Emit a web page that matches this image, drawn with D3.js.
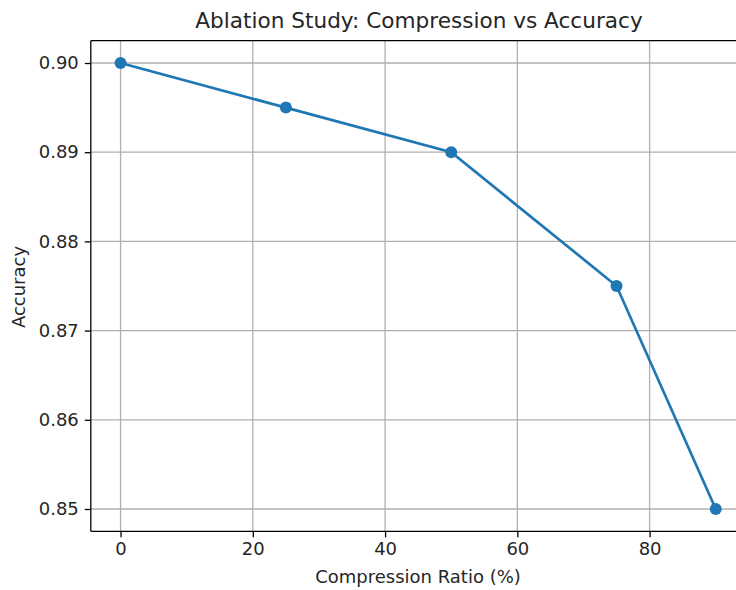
<!DOCTYPE html>
<html><head><meta charset="utf-8">
<script src="https://cdn.jsdelivr.net/npm/d3@7"></script>
<style>body{margin:0;background:#fff;overflow:hidden}text{font-family:"DejaVu Sans",sans-serif;fill:#262626}</style>
</head><body>
<script>
const compression = [0, 25, 50, 75, 90];
const accuracy = [0.90, 0.895, 0.89, 0.875, 0.85];
const xTicks = [0, 20, 40, 60, 80];
const yTicks = [0.85, 0.86, 0.87, 0.88, 0.89, 0.90];

const W = 736, H = 590;
const m = {left: 90.8, top: 40.7, right: 745.5, bottom: 531.3};
const svg = d3.select("body").append("svg").attr("width", W).attr("height", H);

const x = d3.scaleLinear().domain([-4.5, 94.5]).range([m.left, m.right]);
const y = d3.scaleLinear().domain([0.8475, 0.9025]).range([m.bottom, m.top]);

const g = svg.append("g");
// grid
g.selectAll(".gx").data(xTicks).join("line")
  .attr("x1", d => x(d)).attr("x2", d => x(d)).attr("y1", m.top).attr("y2", m.bottom)
  .attr("stroke", "#b0b0b0").attr("stroke-width", 1.3);
g.selectAll(".gy").data(yTicks).join("line")
  .attr("x1", m.left).attr("x2", m.right).attr("y1", d => y(d)).attr("y2", d => y(d))
  .attr("stroke", "#b0b0b0").attr("stroke-width", 1.3);

// axes
const xAxis = d3.axisBottom(x).tickValues(xTicks).tickFormat(d3.format("d")).tickSize(6).tickPadding(5);
const yAxis = d3.axisLeft(y).tickValues(yTicks).tickFormat(d3.format(".2f")).tickSize(6).tickPadding(6);
const gx = svg.append("g").attr("transform", `translate(0,${m.bottom})`).call(xAxis);
const gy = svg.append("g").attr("transform", `translate(${m.left},0)`).call(yAxis);
[gx, gy].forEach(a => {
  a.select(".domain").remove();
  a.selectAll(".tick line").attr("stroke", "#000").attr("stroke-width", 1.3);
  a.selectAll(".tick text").attr("font-size", 18).attr("fill", "#262626").attr("font-family", "DejaVu Sans, sans-serif");
});
// spines
svg.append("line").attr("x1", m.left).attr("x2", m.left).attr("y1", m.top).attr("y2", m.bottom).attr("stroke", "#000").attr("stroke-width", 1.3);
svg.append("line").attr("x1", m.left).attr("x2", m.right).attr("y1", m.bottom).attr("y2", m.bottom).attr("stroke", "#000").attr("stroke-width", 1.3);
svg.append("line").attr("x1", m.left).attr("x2", m.right).attr("y1", m.top).attr("y2", m.top).attr("stroke", "#000").attr("stroke-width", 1.3);

// line
const pts = compression.map((c, i) => [c, accuracy[i]]);
svg.append("path").datum(pts)
  .attr("d", d3.line().x(d => x(d[0])).y(d => y(d[1])))
  .attr("fill", "none").attr("stroke", "#1f77b4").attr("stroke-width", 2.7);
svg.selectAll(".pt").data(pts).join("circle")
  .attr("cx", d => x(d[0])).attr("cy", d => y(d[1])).attr("r", 6).attr("fill", "#1f77b4");

// labels
svg.append("text").attr("x", 419).attr("y", 28).attr("text-anchor", "middle").attr("font-size", 21.6).text("Ablation Study: Compression vs Accuracy");
svg.append("text").attr("x", 418).attr("y", 583).attr("text-anchor", "middle").attr("font-size", 18).text("Compression Ratio (%)");
svg.append("text").attr("transform", "translate(25,287) rotate(-90)").attr("text-anchor", "middle").attr("font-size", 18).text("Accuracy");
</script>
</body></html>
